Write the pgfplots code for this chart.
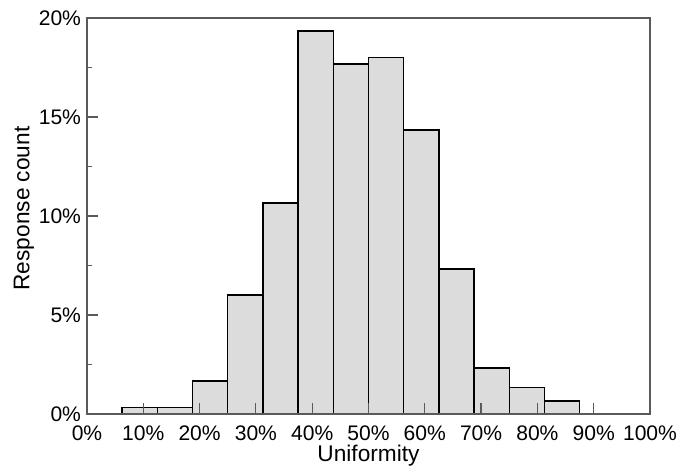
\documentclass[border=0pt]{standalone}
\usepackage{pgfplots}
\pgfplotsset{compat=1.18}
\usepackage{fontspec}
\setmainfont{Liberation Sans}
\definecolor{barfill}{HTML}{DCDCDC}
\definecolor{axgray}{HTML}{5A5A5A}
\begin{document}
\begin{tikzpicture}
\useasboundingbox (-65.25pt,-42.75pt) rectangle (444pt,310.5pt);
\begin{axis}[
  at={(0,0)}, anchor=south west,
  scale only axis, width=422.25pt, height=297pt,
  xmin=0, xmax=100, ymin=0, ymax=20,
  xtick={0,10,...,100}, ytick={0,5,10,15,20},
  minor y tick num=1,
  xticklabel={\pgfmathprintnumber{\tick}\%},
  yticklabel={\pgfmathprintnumber{\tick}\%},
  /pgf/number format/assume math mode=true,
  tick align=inside, xtick pos=left, ytick pos=left,
  major tick length=8pt, minor tick length=4pt,
  every tick/.style={axgray, line width=0.9pt},
  axis line style={axgray, line width=1pt},
  axis on top,
  tick label style={font=\fontsize{15.8}{18}\selectfont},
  label style={font=\fontsize{17}{20}\selectfont},
  xticklabel style={yshift=-5pt},
  yticklabel style={xshift=-1pt},
  xlabel={Uniformity}, ylabel={Response count},
  xlabel style={at={(axis description cs:0.5,-0.1212)}, anchor=base},
  ylabel style={at={(axis description cs:-0.112,0.519)}, anchor=center},
]
\addplot[ybar interval, fill=barfill, draw=black, line width=1.1pt] coordinates {
(0,0) (6.25,0.333) (12.5,0.333) (18.75,1.667) (25,6.0) (31.25,10.667)
(37.5,19.333) (43.75,17.667) (50,18.0) (56.25,14.333) (62.5,7.333)
(68.75,2.333) (75,1.333) (81.25,0.667) (87.5,0) (93.75,0) (100,0)
};
\end{axis}
\end{tikzpicture}
\end{document}
